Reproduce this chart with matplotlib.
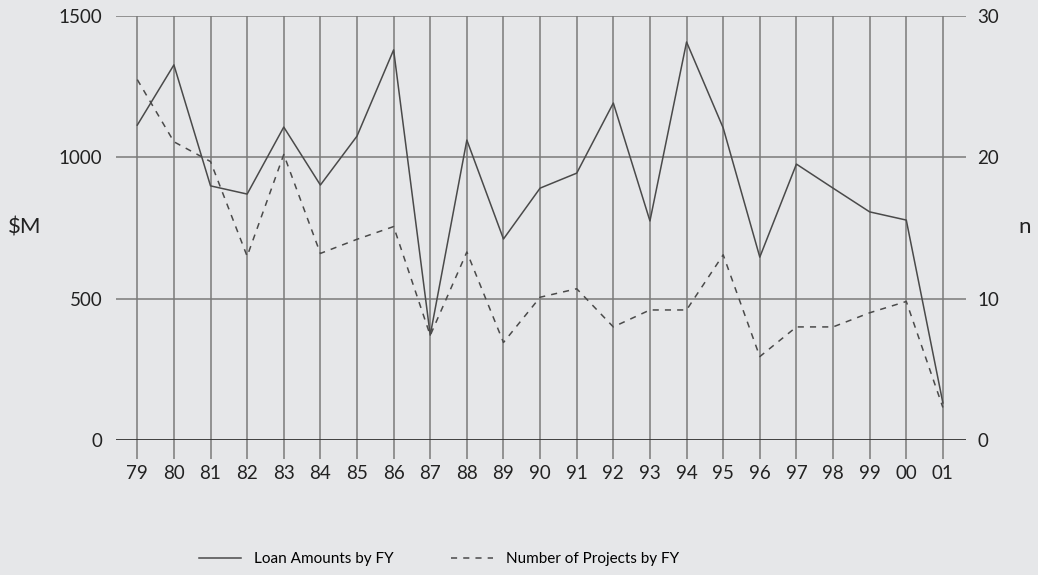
import matplotlib
matplotlib.use("Agg")
import matplotlib.pyplot as plt
from matplotlib.lines import Line2D

## fiscal years and the two series
years = ["79", "80", "81", "82", "83", "84", "85", "86", "87", "88", "89",
         "90", "91", "92", "93", "94", "95", "96", "97", "98", "99", "00", "01"]
loan_amounts = [1114, 1327, 899, 870, 1107, 902, 1075, 1380, 371, 1061, 711,
                891, 944, 1192, 775, 1408, 1104, 647, 976, 891, 807, 778, 131]
num_projects = [25.5, 21.1, 19.7, 13.0, 20.2, 13.2, 14.2, 15.1, 7.4, 13.3, 6.9,
                10.1, 10.7, 8.0, 9.2, 9.2, 13.1, 5.9, 8.0, 8.0, 9.0, 9.8, 2.3]

bg = "#e6e7e9"
line_col = "#4a4a4a"
grid_col = "#7a7a7a"

plt.rcParams['font.family'] = ['Lato', 'DejaVu Sans']

fig = plt.figure(figsize=(10.38, 5.75), dpi=100, facecolor=bg)
ax = fig.add_axes([0.1118, 0.2348, 0.8188, 0.7374])
ax.set_facecolor(bg)
x = list(range(len(years)))

ax.plot(x, loan_amounts, color=line_col, lw=1.1, zorder=3)
ax.set_xlim(-0.58, len(years) - 1 + 0.63)
ax.set_ylim(0, 1500)
ax.set_yticks([0, 500, 1000, 1500])
ax.set_xticks(x)
ax.set_xticklabels(years)

ax2 = ax.twinx()
ax2.plot(x, num_projects, color=line_col, lw=1.1, ls=(0, (4, 4)), zorder=3)
ax2.set_ylim(0, 30)
ax2.set_yticks([0, 10, 20, 30])

for a in (ax, ax2):
    for s in a.spines.values():
        s.set_visible(False)

# vertical lines at each year, extending below the axis as ticks
for xi in x:
    ax.axvline(xi, color=grid_col, lw=1.1, zorder=1)
for yv in [500, 1000, 1500]:
    ax.axhline(yv, color=grid_col, lw=1.1, zorder=1)
ax.axhline(0, color="#333333", lw=1.3, zorder=2)

ax.tick_params(axis='x', length=14, width=1.1, color=grid_col, pad=4,
               labelsize=13.5, labelcolor="#222222")
ax.tick_params(axis='y', length=0, pad=10, labelsize=13.5, labelcolor="#222222")
ax2.tick_params(axis='y', length=0, pad=8, labelsize=13.5, labelcolor="#222222")

fig.text(0.024, 0.605, "$M", fontsize=16, color="#222222", ha='center', va='center')
fig.text(0.987, 0.605, "n", fontsize=16, color="#222222", ha='center', va='center')

handles = [Line2D([], [], color=line_col, lw=1.1),
           Line2D([], [], color=line_col, lw=1.1, ls=(0, (4, 4)))]
fig.legend(handles, ["Loan Amounts by FY", "Number of Projects by FY"],
           loc='center', bbox_to_anchor=(0.423, 0.028), ncol=2, frameon=False,
           fontsize=11, handlelength=2.75, handletextpad=0.9, columnspacing=3.7)

fig.savefig("out.png", dpi=100, facecolor=bg)
